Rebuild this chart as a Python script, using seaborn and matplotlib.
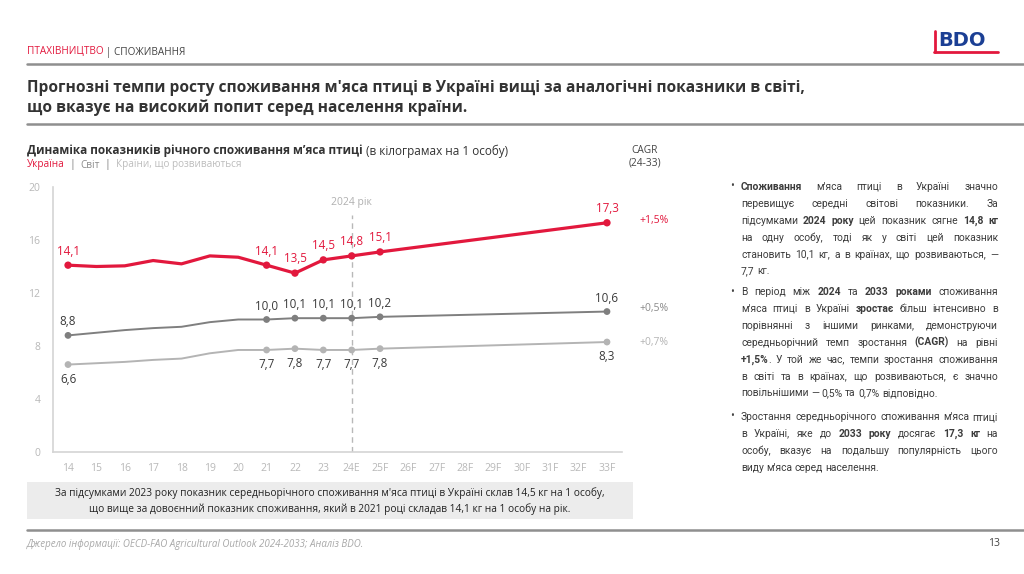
import matplotlib
matplotlib.use("Agg")
import matplotlib.pyplot as plt
from matplotlib.lines import Line2D
from matplotlib.patches import Rectangle
import seaborn as sns
import numpy as np
import pandas as pd

# ---------------- data ----------------
years = ['14', '15', '16', '17', '18', '19', '20', '21', '22', '23', '24E', '25F',
         '26F', '27F', '28F', '29F', '30F', '31F', '32F', '33F']
ukraine = [14.1, 14.0, 14.05, 14.45, 14.2, 14.8, 14.7, 14.1, 13.5, 14.5, 14.8, 15.1,
           None, None, None, None, None, None, None, 17.3]
world = [8.8, 9.0, 9.2, 9.35, 9.45, 9.8, 10.0, 10.0, 10.1, 10.1, 10.1, 10.2,
         None, None, None, None, None, None, None, 10.6]
developing = [6.6, 6.7, 6.8, 6.95, 7.05, 7.45, 7.7, 7.7, 7.8, 7.7, 7.7, 7.8,
              None, None, None, None, None, None, None, 8.3]
labeled_years = ['14', '21', '22', '23', '24E', '25F', '33F']
cagr_labels = ['+1,5%', '+0,5%', '+0,7%']
series_names = ['Україна', 'Світ', 'Країни, що розвиваються']

RED = '#e2183d'
WORLD = '#7f7f7f'
DEV = '#b4b4b4'
DARK = '#3a3a3a'
FONT = 'Open Sans'
BODY = 'Roboto'

sns.set_theme(style='white')
plt.rcParams['font.family'] = [FONT, 'DejaVu Sans']

W, H = 1024, 574
fig = plt.figure(figsize=(W / 100, H / 100), dpi=100)
fig.patch.set_facecolor('white')

def fx(x):
    return x / W

def fy(y):
    return 1 - y / H

# ---------------- chart ----------------
ax = fig.add_axes([fx(53), fy(452), fx(622) - fx(53), fy(187) - fy(452)])
rows = []
for name, vals in zip(series_names, [ukraine, world, developing]):
    for i, (yr, v) in enumerate(zip(years, vals)):
        if v is not None:
            rows.append({'series': name, 'idx': i, 'year': yr, 'value': v})
df = pd.DataFrame(rows)

styles = {
    'Україна': dict(color=RED, lw=2.3),
    'Світ': dict(color=WORLD, lw=1.4),
    'Країни, що розвиваються': dict(color=DEV, lw=1.4),
}
for name in series_names[::-1]:
    sub = df[df.series == name]
    sns.lineplot(data=sub, x='idx', y='value', ax=ax, color=styles[name]['color'],
                 linewidth=styles[name]['lw'], legend=False, zorder=3)
    lab = sub[sub.year.isin(labeled_years)]
    sns.scatterplot(data=lab, x='idx', y='value', ax=ax, color=styles[name]['color'],
                    s=28 if name == 'Україна' else 24, edgecolor='none', legend=False, zorder=4)
    for _, r in lab.iterrows():
        txt = f"{r.value:.1f}".replace('.', ',')
        if name == 'Україна':
            ax.annotate(txt, (r.idx, r.value), xytext=(0, 5.5), textcoords='offset points',
                        ha='center', va='bottom', fontsize=8.4, color=RED)
        elif name == 'Світ':
            ax.annotate(txt, (r.idx, r.value), xytext=(0, 5), textcoords='offset points',
                        ha='center', va='bottom', fontsize=8.4, color=DARK)
        else:
            ax.annotate(txt, (r.idx, r.value), xytext=(0, -6), textcoords='offset points',
                        ha='center', va='top', fontsize=8.4, color=DARK)

ax.set_xlim(-0.53, 19.53)
ax.set_ylim(0, 20)
ax.set_xticks(range(len(years)))
ax.set_xticklabels(years)
ax.set_yticks([0, 4, 8, 12, 16, 20])
ax.tick_params(axis='both', colors='#b8b8b8', labelsize=7.5, length=0, pad=9)
ax.tick_params(axis='x', pad=8)
ax.set_xlabel('')
ax.set_ylabel('')
for s in ['top', 'right']:
    ax.spines[s].set_visible(False)
for s in ['left', 'bottom']:
    ax.spines[s].set_color('#d4d4d4')
    ax.spines[s].set_linewidth(1.2)
ax.grid(False)
ax.set_facecolor('none')
ax.axvline(10, ymin=0, ymax=0.895, color='#b8b8b8', lw=1, ls=(0, (4, 3)), zorder=1)
ax.text(10, 18.8, '2024 рік', ha='center', va='center', fontsize=7.5, color='#b0b0b0')

# ---------------- rich text helper ----------------
fig.canvas.draw()
renderer = fig.canvas.get_renderer()
_cache = {}

def measure(s, size, weight='normal', family=None):
    key = (s, size, weight, family)
    if key not in _cache:
        kw = {'family': [family, 'DejaVu Sans']} if family else {}
        t = fig.text(0, 0, s, fontsize=size, fontweight=weight, **kw)
        _cache[key] = t.get_window_extent(renderer).width
        t.remove()
    return _cache[key]

def parse(line, bold=False):
    words = []
    for tok in line.split(' '):
        if tok == '':
            continue
        parts = tok.split('**')
        pieces = []
        for k, p in enumerate(parts):
            if k > 0:
                bold = not bold
            if p:
                pieces.append((p, bold))
        words.append(pieces)
    return words, bold

def rich_line(x, y, line, size, color, width=None, justify=False, bold=False, family=None):
    words, bold_after = parse(line, bold)
    widths = [sum(measure(p, size, 'bold' if b else 'normal', family) for p, b in w) for w in words]
    space = measure('x x', size, 'normal', family) - measure('xx', size, 'normal', family)
    if justify and width and len(words) > 1:
        gap = max((width - sum(widths)) / (len(words) - 1), space * 0.8)
    else:
        gap = space
    kw = {'family': [family, 'DejaVu Sans']} if family else {}
    cx = x
    for w, ww in zip(words, widths):
        px = cx
        for p, b in w:
            fig.text(fx(px), fy(y + 3), p, fontsize=size, fontweight='bold' if b else 'normal',
                     color=color, ha='left', va='baseline', **kw)
            px += measure(p, size, 'bold' if b else 'normal', family)
        cx += ww + gap
    return bold_after

# ---------------- header ----------------
fig.text(fx(27), fy(52), 'ПТАХІВНИЦТВО', fontsize=7.2, color=RED, va='center')
hx = 27 + measure('ПТАХІВНИЦТВО', 7.2) + 2
fig.text(fx(hx), fy(52), '| СПОЖИВАННЯ', fontsize=7.2, color='#444444', va='center')
fig.add_artist(Line2D([fx(27), 1.0], [fy(64), fy(64)], color='#8f8f8f', lw=1.8))
fig.text(fx(27), fy(88), "Прогнозні темпи росту споживання м'яса птиці в Україні вищі за аналогічні показники в світі,",
         fontsize=11.2, fontweight='bold', color='#333333', va='center')
fig.text(fx(27), fy(108), "що вказує на високий попит серед населення країни.",
         fontsize=11.2, fontweight='bold', color='#333333', va='center')
fig.add_artist(Line2D([fx(27), 1.0], [fy(124), fy(124)], color='#8f8f8f', lw=1.8))

# BDO logo
fig.add_artist(Line2D([fx(935), fx(935)], [fy(31), fy(52)], color=RED, lw=2.0))
fig.add_artist(Line2D([fx(934), fx(998)], [fy(52), fy(52)], color=RED, lw=2.0))
fig.text(fx(938), fy(41), 'BDO', fontsize=14, fontweight='bold', color='#1b3f94', va='center',
         family=['DejaVu Sans'])

# subtitle and legend
sub1 = 'Динаміка показників річного споживання м’яса птиці'
SUBS = 8.5
fig.text(fx(27), fy(151), sub1, fontsize=SUBS, fontweight='bold', color='#333333', va='center')
sx = 27 + measure(sub1, SUBS, 'bold') + 3
fig.text(fx(sx), fy(151), '(в кілограмах на 1 особу)', fontsize=SUBS, color='#333333', va='center')
lx = 27
for txt, col in [(series_names[0], RED), ('  |  ', '#666666'), (series_names[1], '#8a8a8a'),
                 ('  |  ', '#666666'), (series_names[2], '#bdbdbd')]:
    fig.text(fx(lx), fy(165), txt, fontsize=7.2, color=col, va='center')
    lx += measure(txt, 7.2)

fig.text(fx(645), fy(150), 'CAGR', fontsize=7.3, color='#444444', ha='center', va='center')
fig.text(fx(645), fy(163), '(24-33)', fontsize=7.3, color='#444444', ha='center', va='center')
fig.text(fx(654), fy(220), cagr_labels[0], fontsize=7.5, color=RED, ha='center', va='center')
fig.text(fx(654), fy(308), cagr_labels[1], fontsize=7.5, color='#8a8a8a', ha='center', va='center')
fig.text(fx(654), fy(343), cagr_labels[2], fontsize=7.5, color='#b4b4b4', ha='center', va='center')

# ---------------- right text block ----------------
paras = [
    (187, ["**Споживання** м'яса птиці в Україні значно",
           "перевищує середні світові показники. За",
           "підсумками **2024 року** цей показник сягне **14,8 кг**",
           "на одну особу, тоді як у світі цей показник",
           "становить 10,1 кг, а в країнах, що розвиваються, —",
           "7,7 кг."]),
    (292, ["В період між **2024** та **2033 роками** споживання",
           "м'яса птиці в Україні **зростає** більш інтенсивно в",
           "порівнянні з іншими ринками, демонструючи",
           "середньорічний темп зростання **(CAGR)** на рівні",
           "**+1,5%**. У той же час, темпи зростання споживання",
           "в світі та в країнах, що розвиваються, є значно",
           "повільнішими — 0,5% та 0,7% відповідно."]),
    (417, ["Зростання середньорічного споживання м'яса птиці",
           "в Україні, яке до **2033 року** досягає **17,3 кг** на",
           "особу, вказує на подальшу популярність цього",
           "виду м'яса серед населення."]),
]
BX0, BX1, LH, BS = 741, 998, 16.9, 7.4
for y0, lines in paras:
    fig.text(fx(730), fy(y0), '•', fontsize=BS, color='#444444', va='center')
    for k, line in enumerate(lines):
        rich_line(BX0, y0 + k * LH, line, BS, '#3c3c3c', width=BX1 - BX0,
                  justify=(k < len(lines) - 1), family=BODY)

# ---------------- bottom note ----------------
fig.add_artist(Rectangle((fx(27), fy(519)), fx(633) - fx(27), fy(482) - fy(519),
                         facecolor='#ececec', edgecolor='none'))
fig.text(fx(330), fy(493), "За підсумками 2023 року показник середньорічного споживання м'яса птиці в Україні склав 14,5 кг на 1 особу,",
         fontsize=7.3, color='#222222', ha='center', va='center')
fig.text(fx(330), fy(509), "що вище за довоєнний показник споживання, який в 2021 році складав 14,1 кг на 1 особу на рік.",
         fontsize=7.3, color='#222222', ha='center', va='center')

fig.add_artist(Line2D([fx(27), 1.0], [fy(530), fy(530)], color='#8f8f8f', lw=1.8))
fig.text(fx(27), fy(544), 'Джерело інформації: OECD-FAO Agricultural Outlook 2024-2033; Аналіз BDO.',
         fontsize=7, fontstyle='italic', color='#a8a8a8', va='center')
fig.text(fx(1000), fy(544), '13', fontsize=7.5, color='#444444', ha='right', va='center')

fig.savefig('out.png', dpi=100)
